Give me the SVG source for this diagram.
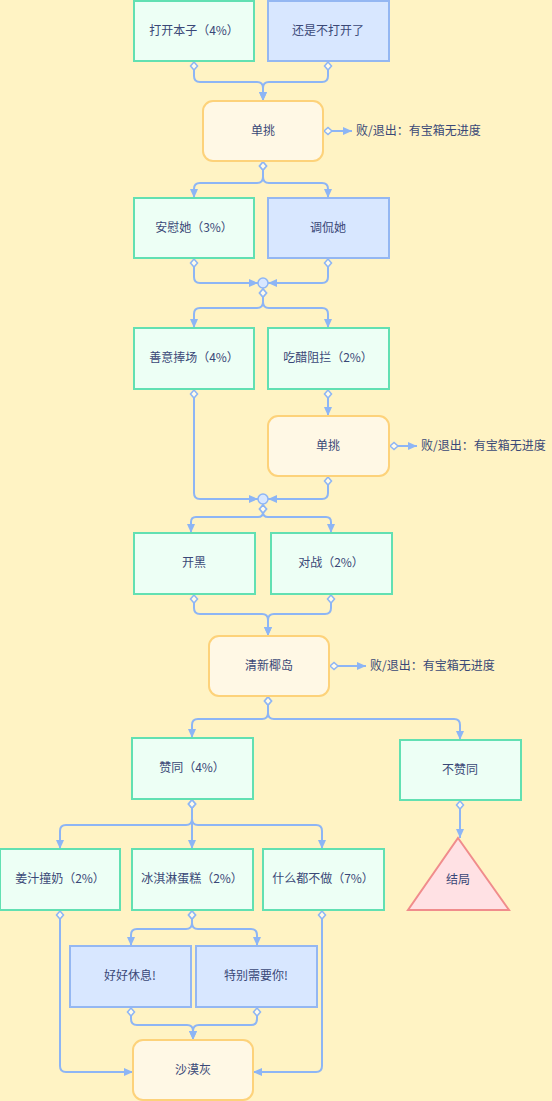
<svg xmlns="http://www.w3.org/2000/svg" width="552" height="1101" viewBox="0 0 552 1101">
<style>
text{font-family:"Noto Sans CJK SC","Liberation Sans",sans-serif;font-size:12px;fill:#3a4877;}
.c{text-anchor:middle;}
.g{fill:#edfff5;stroke:#62e0b2;stroke-width:2;}
.b{fill:#d8e7ff;stroke:#94b7f2;stroke-width:2;}
.y{fill:#fff8e5;stroke:#fdd27a;stroke-width:2;}
.t{fill:#ffe1e4;stroke:#f08c8c;stroke-width:2;}
.e{fill:none;stroke:#8db5f5;stroke-width:2;marker-start:url(#dia);marker-end:url(#arr);}
.n{fill:none;stroke:#8db5f5;stroke-width:2;marker-start:url(#dia);}
.j{fill:#d8e7ff;stroke:#8db5f5;stroke-width:1.5;}
</style>
<defs>
<marker id="arr" markerUnits="userSpaceOnUse" markerWidth="12" markerHeight="12" refX="9" refY="5" orient="auto" viewBox="0 0 12 10"><path d="M0,1 L9,5 L0,9 z" fill="#8db5f5"/></marker>
<marker id="dia" markerUnits="userSpaceOnUse" markerWidth="12" markerHeight="10" refX="1" refY="5" orient="auto" viewBox="0 0 12 10"><path d="M1,5 L5,1.5 L9,5 L5,8.5 z" fill="#fffbea" stroke="#8db5f5" stroke-width="1.5"/></marker>
</defs>
<rect width="552" height="1101" fill="#fff3c4"/>

<g id="connectors">
<path class="e" d="M194,62 V76 Q194,82 200,82 H257 Q263,82 263,88 V101"/>
<path class="e" d="M328,62 V76 Q328,82 322,82 H269 Q263,82 263,88 V101"/>
<path class="e" d="M324,131 H352"/>
<path class="e" d="M263,162 V177 Q263,183 257,183 H200 Q194,183 194,189 V198"/>
<path class="e" d="M263,162 V177 Q263,183 269,183 H322 Q328,183 328,189 V198"/>
<path class="e" d="M194,259 V277 Q194,283 200,283 H258"/>
<path class="e" d="M328,259 V277 Q328,283 322,283 H268"/>
<path class="e" d="M263,289 V302 Q263,308 257,308 H200 Q194,308 194,314 V328"/>
<path class="e" d="M263,289 V302 Q263,308 269,308 H322 Q328,308 328,314 V328"/>
<path class="e" d="M194,390 V493 Q194,499 200,499 H258"/>
<path class="e" d="M328,390 V416"/>
<path class="e" d="M390,446 H417"/>
<path class="e" d="M328,477 V493 Q328,499 322,499 H268"/>
<path class="e" d="M263,505 V512 Q263,517 258,517 H196 Q191,517 191,522 V533"/>
<path class="e" d="M263,505 V512 Q263,517 268,517 H326 Q331,517 331,522 V533"/>
<path class="e" d="M194,595 V608 Q194,614 200,614 H262 Q268,614 268,620 V636"/>
<path class="e" d="M331,595 V608 Q331,614 325,614 H274 Q268,614 268,620 V636"/>
<path class="e" d="M330,666 H366"/>
<path class="e" d="M268,697 V713 Q268,719 262,719 H198 Q192,719 192,725 V738"/>
<path class="e" d="M268,697 V713 Q268,719 274,719 H454 Q460,719 460,725 V740"/>
<path class="e" d="M192,800 V819 Q192,825 186,825 H66 Q60,825 60,831 V849"/>
<path class="e" d="M192,800 V849"/>
<path class="e" d="M192,800 V819 Q192,825 198,825 H316 Q322,825 322,831 V849"/>
<path class="e" d="M460,801 V838"/>
<path class="e" d="M60,911 V1066 Q60,1072 66,1072 H133"/>
<path class="e" d="M192,911 V923 Q192,929 186,929 H137 Q131,929 131,935 V946"/>
<path class="e" d="M192,911 V923 Q192,929 198,929 H251 Q257,929 257,935 V946"/>
<path class="e" d="M322,911 V1066 Q322,1072 316,1072 H253"/>
<path class="e" d="M131,1008 V1019 Q131,1025 137,1025 H187 Q193,1025 193,1031 V1040"/>
<path class="e" d="M257,1008 V1019 Q257,1025 251,1025 H199 Q193,1025 193,1031 V1040"/>
<circle class="j" cx="263" cy="283" r="5"/>
<circle class="j" cx="263" cy="499" r="5"/>
</g>

<g id="n1"><rect class="g" x="134" y="1" width="120" height="60"/><text class="c" x="194" y="35">打开本子（4%）</text></g>
<g id="n2"><rect class="b" x="268" y="1" width="121" height="60"/><text class="c" x="328" y="35">还是不打开了</text></g>
<g id="n3"><rect class="y" x="203" y="101" width="120" height="60" rx="10"/><text class="c" x="263" y="135">单挑</text></g>
<g id="l1"><text x="356" y="135">败/退出：有宝箱无进度</text></g>
<g id="n4"><rect class="g" x="134" y="198" width="120" height="60"/><text class="c" x="194" y="232">安慰她（3%）</text></g>
<g id="n5"><rect class="b" x="268" y="198" width="121" height="60"/><text class="c" x="328" y="232">调侃她</text></g>
<g id="n6"><rect class="g" x="134" y="328" width="120" height="61"/><text class="c" x="194" y="362">善意捧场（4%）</text></g>
<g id="n7"><rect class="g" x="268" y="328" width="121" height="61"/><text class="c" x="328" y="362">吃醋阻拦（2%）</text></g>
<g id="n8"><rect class="y" x="268" y="416" width="121" height="60" rx="10"/><text class="c" x="328" y="450">单挑</text></g>
<g id="l2"><text x="421" y="450">败/退出：有宝箱无进度</text></g>
<g id="n9"><rect class="g" x="134" y="533" width="121" height="61"/><text class="c" x="194" y="567">开黑</text></g>
<g id="n10"><rect class="g" x="271" y="533" width="121" height="61"/><text class="c" x="331" y="567">对战（2%）</text></g>
<g id="n11"><rect class="y" x="209" y="636" width="120" height="60" rx="10"/><text class="c" x="269" y="670">清新椰岛</text></g>
<g id="l3"><text x="370" y="670">败/退出：有宝箱无进度</text></g>
<g id="n12"><rect class="g" x="132" y="738" width="121" height="61"/><text class="c" x="192" y="772">赞同（4%）</text></g>
<g id="n13"><rect class="g" x="400" y="740" width="121" height="60"/><text class="c" x="460" y="774">不赞同</text></g>
<g id="n14"><rect class="g" x="0" y="849" width="120" height="61"/><text class="c" x="60" y="883">姜汁撞奶（2%）</text></g>
<g id="n15"><rect class="g" x="132" y="849" width="121" height="61"/><text class="c" x="192" y="883">冰淇淋蛋糕（2%）</text></g>
<g id="n16"><rect class="g" x="263" y="849" width="121" height="61"/><text class="c" x="323" y="883">什么都不做（7%）</text></g>
<g id="n17"><polygon class="t" points="458,838 509,910 408,910"/><text class="c" x="458" y="884">结局</text></g>
<g id="n18"><rect class="b" x="70" y="946" width="121" height="61"/><text class="c" x="130" y="980">好好休息!</text></g>
<g id="n19"><rect class="b" x="196" y="946" width="121" height="61"/><text class="c" x="256" y="980">特别需要你!</text></g>
<g id="n20"><rect class="y" x="133" y="1040" width="120" height="60" rx="10"/><text class="c" x="193" y="1074">沙漠灰</text></g>
</svg>
